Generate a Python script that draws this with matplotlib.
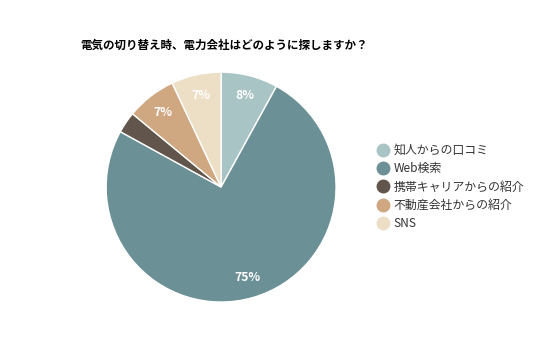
import matplotlib
matplotlib.use("Agg")
import matplotlib.pyplot as plt
from matplotlib.lines import Line2D

plt.rcParams['font.family'] = ['Noto Sans CJK JP', 'DejaVu Sans']

# データ
labels = ['知人からの口コミ', 'Web検索', '携帯キャリアからの紹介', '不動産会社からの紹介', 'SNS']
values = [8, 75, 3, 7, 7]
colors = ['#a9c4c5', '#6b9096', '#62554b', '#cfa882', '#ecdfc6']
title = '電気の切り替え時、電力会社はどのように探しますか？'

fig = plt.figure(figsize=(5.36, 3.57), dpi=100)
ax = fig.add_axes([0.198, 0.154, 0.429, 0.644])

def fmt(p):
    return '%d%%' % round(p) if p >= 5 else ''

wedges, texts, autotexts = ax.pie(values, colors=colors, startangle=90, counterclock=False,
                                  autopct=fmt, pctdistance=0.82,
                                  wedgeprops=dict(edgecolor='white', linewidth=1))
for t in autotexts:
    t.set_color('white')
    t.set_fontweight('bold')
    t.set_fontsize(8.8)
ax.set_xlim(-1, 1)
ax.set_ylim(-1, 1)
ax.set_aspect('equal')

fig.text(0.149, 0.872, title, fontsize=8.3, fontweight='bold', ha='left', va='center')

handles = [Line2D([], [], marker='o', linestyle='', markersize=9,
                  markerfacecolor=c, markeredgecolor=c) for c in colors]
fig.legend(handles, labels, loc='center left', bbox_to_anchor=(0.672, 0.476),
           frameon=False, fontsize=8.6, handletextpad=-0.1, labelspacing=0.45,
           labelcolor='#333333')

fig.savefig('out.png', dpi=100)
